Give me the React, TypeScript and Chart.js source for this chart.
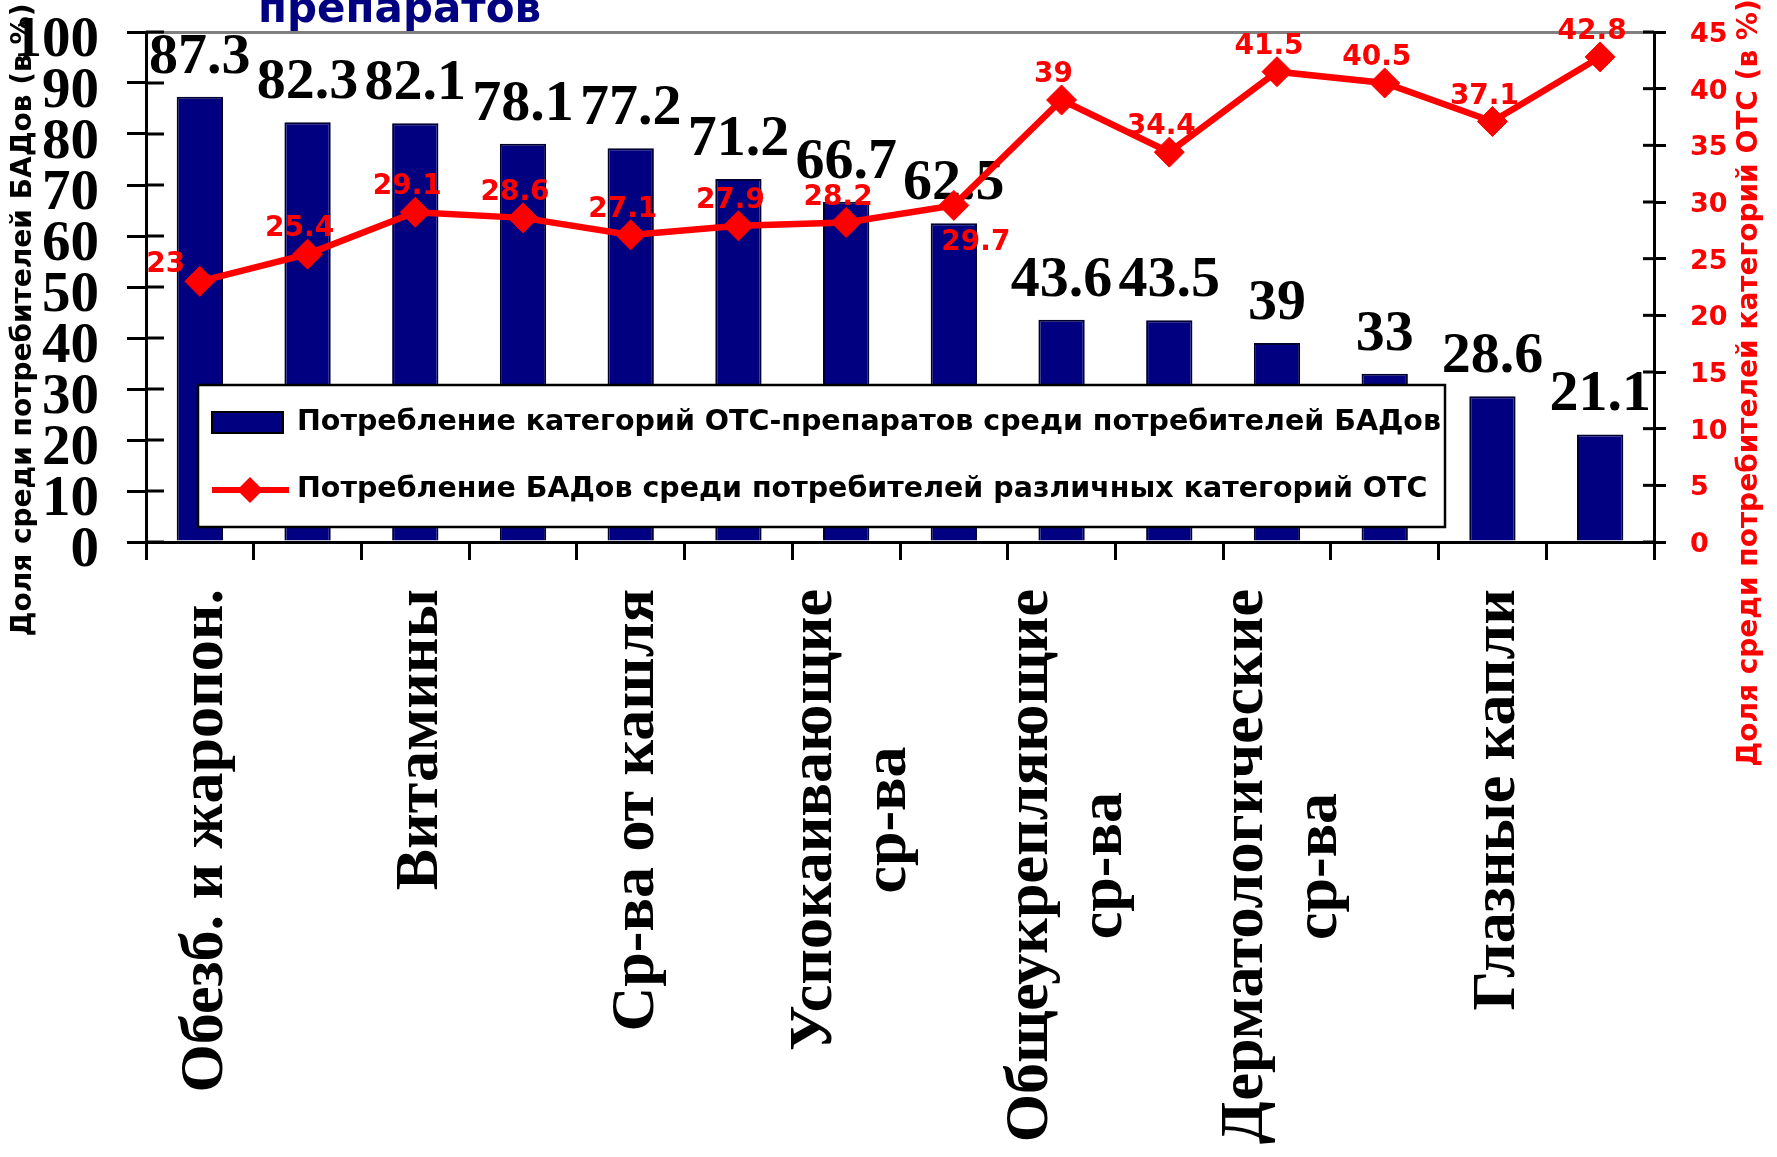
import React, { useEffect, useRef } from 'react';
import { Chart, registerables } from 'chart.js';

Chart.register(...registerables);

// ---------- data ----------
const categories: string[] = [
  'Обезб. и жаропон.',
  '',
  'Витамины',
  '',
  'Ср-ва от кашля',
  '',
  'Успокаивающие\nср-ва',
  '',
  'Общеукрепляющие\nср-ва',
  '',
  'Дерматологические\nср-ва',
  '',
  'Глазные капли',
  '',
];

const otcShare: number[] = [87.3, 82.3, 82.1, 78.1, 77.2, 71.2, 66.7, 62.5, 43.6, 43.5, 39, 33, 28.6, 21.1];
const badShare: number[] = [23, 25.4, 29.1, 28.6, 27.1, 27.9, 28.2, 29.7, 39, 34.4, 41.5, 40.5, 37.1, 42.8];

const leftAxisMax = 100;
const leftAxisStep = 10;
const rightAxisMax = 45;
const rightAxisStep = 5;

const barSeriesName = 'Потребление категорий ОТС-препаратов среди потребителей БАДов';
const lineSeriesName = 'Потребление БАДов среди потребителей различных категорий ОТС';
const leftAxisTitle = 'Доля среди потребителей БАДов (в %)';
const rightAxisTitle = 'Доля среди потребителей категорий ОТС (в %)';
const chartTitle = 'препаратов';

// label placement for the line series (style only)
const lineLabelPlacement: string[] = [
  'left', 'above', 'above', 'above', 'above', 'above', 'above',
  'below', 'above', 'above', 'above', 'above', 'above', 'above',
];

// ---------- styles ----------
const SERIF = '"Liberation Serif", "Times New Roman", serif';
const SANS = '"DejaVu Sans", Verdana, sans-serif';
const NAVY = '#000080';
const RED = '#FF0000';

const fmt = (v: number) => String(v);

const decorPlugin = {
  id: 'decor',
  afterDatasetDraw(chart: any, args: any) {
    if (args.index !== 0) return;
    const ctx = chart.ctx as CanvasRenderingContext2D;
    const barMeta = chart.getDatasetMeta(0);
    const lineMeta = chart.getDatasetMeta(1);
    ctx.save();
    // bar value labels
    ctx.fillStyle = '#000';
    ctx.font = `bold 58px ${SERIF}`;
    ctx.textAlign = 'center';
    ctx.textBaseline = 'alphabetic';
    barMeta.data.forEach((el: any, i: number) => {
      ctx.fillText(fmt(otcShare[i]), el.x, el.y - 24);
    });
    // line value labels
    ctx.fillStyle = RED;
    ctx.font = `bold 28px ${SANS}`;
    ctx.textBaseline = 'middle';
    lineMeta.data.forEach((el: any, i: number) => {
      const p = lineLabelPlacement[i];
      let dx = -8;
      let dy = -25;
      if (p === 'left') { dx = -34; dy = -17; }
      if (p === 'below') { dx = 22; dy = 37; }
      ctx.fillText(fmt(badShare[i]), el.x + dx, el.y + dy);
    });
    ctx.restore();
  },
  afterDraw(chart: any) {
    const ctx = chart.ctx as CanvasRenderingContext2D;
    const area = chart.chartArea;
    const xs = chart.scales.x;
    const ys = chart.scales.y;
    const ys1 = chart.scales.y1;
    ctx.save();

    // inner tick marks (ticks cross the axes)
    ctx.strokeStyle = '#000';
    ctx.lineWidth = 3;
    ys.ticks.forEach((t: any) => {
      const py = ys.getPixelForValue(t.value);
      ctx.beginPath();
      ctx.moveTo(area.left, py);
      ctx.lineTo(area.left + 18, py);
      ctx.stroke();
    });
    ys1.ticks.forEach((t: any) => {
      const py = ys1.getPixelForValue(t.value);
      ctx.beginPath();
      ctx.moveTo(area.right - 11, py);
      ctx.lineTo(area.right, py);
      ctx.stroke();
    });

    // x category labels (rotated, lines centred on each other)
    ctx.fillStyle = '#000';
    ctx.font = `bold 62px ${SERIF}`;
    categories.forEach((lab, i) => {
      if (!lab) return;
      const lines = lab.split('\n');
      const maxW = Math.max(...lines.map((l) => ctx.measureText(l).width));
      const cx = xs.getPixelForValue(i) + 6;
      const top = area.bottom + 47;
      lines.forEach((line, j) => {
        const x = cx + (j - (lines.length - 1) / 2) * 74;
        ctx.save();
        ctx.translate(x, top + maxW / 2);
        ctx.rotate(-Math.PI / 2);
        ctx.textAlign = 'center';
        ctx.textBaseline = 'middle';
        ctx.fillText(line, 0, 0);
        ctx.restore();
      });
    });

    // axis titles
    ctx.font = `bold 28px ${SANS}`;
    ctx.textAlign = 'center';
    ctx.textBaseline = 'middle';
    ctx.fillStyle = '#000';
    ctx.save();
    ctx.translate(24, 320);
    ctx.rotate(-Math.PI / 2);
    ctx.fillText(leftAxisTitle, 0, 0);
    ctx.restore();

    ctx.fillStyle = RED;
    ctx.save();
    ctx.translate(1750, 383);
    ctx.rotate(-Math.PI / 2);
    ctx.fillText(rightAxisTitle, 0, 0);
    ctx.restore();

    // chart title (cropped at the top like the source)
    ctx.fillStyle = NAVY;
    ctx.font = `bold 42px ${SANS}`;
    ctx.textAlign = 'left';
    ctx.textBaseline = 'alphabetic';
    ctx.fillText(chartTitle, 258, 22);

    // legend box
    const lx = 198, ly = 385, lw = 1247, lh = 142;
    ctx.fillStyle = '#fff';
    ctx.fillRect(lx, ly, lw, lh);
    ctx.strokeStyle = '#000';
    ctx.lineWidth = 2.5;
    ctx.strokeRect(lx, ly, lw, lh);

    const ds = chart.data.datasets;
    // bar swatch
    ctx.fillStyle = NAVY;
    ctx.fillRect(lx + 14, ly + 27, 71, 21);
    ctx.lineWidth = 2;
    ctx.strokeStyle = '#000';
    ctx.strokeRect(lx + 14, ly + 27, 71, 21);
    // line swatch
    const ry = ly + 105;
    ctx.strokeStyle = RED;
    ctx.lineWidth = 6;
    ctx.beginPath();
    ctx.moveTo(lx + 14, ry);
    ctx.lineTo(lx + 91, ry);
    ctx.stroke();
    ctx.fillStyle = RED;
    ctx.beginPath();
    ctx.moveTo(lx + 52 - 13, ry);
    ctx.lineTo(lx + 52, ry - 13);
    ctx.lineTo(lx + 52 + 13, ry);
    ctx.lineTo(lx + 52, ry + 13);
    ctx.closePath();
    ctx.fill();

    ctx.fillStyle = '#000';
    ctx.font = `bold 28.5px ${SANS}`;
    ctx.textAlign = 'left';
    ctx.textBaseline = 'middle';
    ctx.fillText(ds[0].label, lx + 99, ly + 38);
    ctx.fillText(ds[1].label, lx + 99, ry);

    ctx.restore();
  },
};

export default function App() {
  const ref = useRef<HTMLCanvasElement>(null);

  useEffect(() => {
    if (!ref.current) return;
    const chart = new Chart(ref.current, {
      type: 'bar',
      data: {
        labels: categories,
        datasets: [
          {
            type: 'bar',
            label: barSeriesName,
            data: otcShare,
            backgroundColor: NAVY,
            borderColor: '#000030',
            borderWidth: 2,
            yAxisID: 'y',
            order: 2,
            barPercentage: 0.43,
            categoryPercentage: 1,
          } as any,
          {
            type: 'line',
            label: lineSeriesName,
            data: badShare,
            borderColor: RED,
            backgroundColor: RED,
            borderWidth: 6.5,
            pointStyle: 'rectRot',
            pointRadius: 15,
            pointBorderWidth: 1,
            pointBackgroundColor: RED,
            pointBorderColor: RED,
            yAxisID: 'y1',
            order: 1,
            tension: 0,
          } as any,
        ],
      },
      options: {
        animation: false,
        responsive: false,
        devicePixelRatio: 1,
        layout: { padding: { top: 32, left: 0, right: 0, bottom: 0 } },
        plugins: {
          legend: { display: false },
          tooltip: { enabled: false },
          title: { display: false },
        },
        scales: {
          x: {
            type: 'category',
            offset: true,
            grid: {
              offset: true,
              drawOnChartArea: false,
              color: '#000',
              tickColor: '#000',
              tickLength: 18,
              tickWidth: 3,
              lineWidth: 3,
            },
            border: { display: true, color: '#000', width: 3 },
            ticks: { display: false },
            afterFit: (s: any) => { s.height = 615; },
          },
          y: {
            position: 'left',
            min: 0,
            max: leftAxisMax,
            ticks: {
              stepSize: leftAxisStep,
              autoSkip: false,
              color: '#000',
              font: { family: SERIF, size: 57, weight: 'bold', lineHeight: 0.05 },
              padding: 28,
              labelOffset: 9,
            },
            grid: {
              color: (c: any) => (c.tick && c.tick.value === leftAxisMax ? '#808080' : 'rgba(0,0,0,0)'),
              tickColor: '#000',
              tickLength: 19,
              tickWidth: 3,
              lineWidth: 3,
            },
            border: { display: true, color: '#000', width: 3 },
            afterFit: (s: any) => { s.width = 146; },
          },
          y1: {
            position: 'right',
            min: 0,
            max: rightAxisMax,
            ticks: {
              stepSize: rightAxisStep,
              autoSkip: false,
              color: RED,
              font: { family: SANS, size: 27, weight: 'bold', lineHeight: 0.5 },
              padding: 24,
              labelOffset: 3,
            },
            grid: {
              drawOnChartArea: false,
              tickColor: '#000',
              tickLength: 12,
              tickWidth: 3,
            },
            border: { display: true, color: '#000', width: 3 },
            afterFit: (s: any) => { s.width = 123; },
          },
        },
      } as any,
      plugins: [decorPlugin as any],
    });
    return () => chart.destroy();
  }, []);

  return (
    <div style={{ position: 'fixed', left: 0, top: 0, width: 1777, height: 1157, background: '#fff' }}>
      <canvas ref={ref} width={1777} height={1157} style={{ display: 'block', width: 1777, height: 1157 }} />
    </div>
  );
}
